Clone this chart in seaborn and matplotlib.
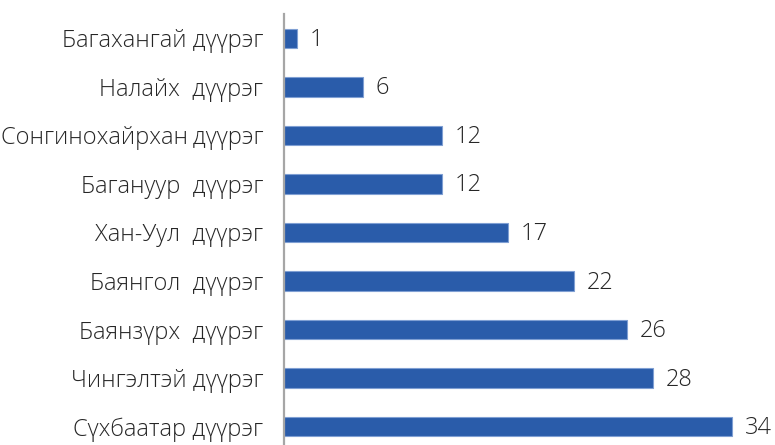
import matplotlib
matplotlib.use('Agg')
import matplotlib.pyplot as plt
import seaborn as sns
import pandas as pd
import numpy as np

districts = ['Багахангай дүүрэг', 'Налайх  дүүрэг', 'Сонгинохайрхан\u2009дүүрэг',
             'Багануур  дүүрэг', 'Хан-Уул  дүүрэг', 'Баянгол  дүүрэг',
             'Баянзүрх  дүүрэг', 'Чингэлтэй дүүрэг', 'Сүхбаатар дүүрэг']
counts = [1, 6, 12, 12, 17, 22, 26, 28, 34]

df = pd.DataFrame({'district': districts, 'count': counts})

sns.set_style('white')
plt.rcParams['font.family'] = ['Open Sans', 'DejaVu Sans']

fig = plt.figure(figsize=(7.75, 4.45), dpi=100)
ax = fig.add_axes([284 / 775, -6 / 445, 488 / 775, 437 / 445])

sns.barplot(data=df, x='count', y='district', orient='h', color='#2A5CAA',
            width=0.4, edgecolor='#7F9FD3', linewidth=0.8, saturation=1, ax=ax)

ax.set_xlim(0, 37)
ax.set_ylim(len(districts) - 0.5, -0.5)
ax.set_xlabel('')
ax.set_ylabel('')
ax.set_xticks([])

for s in ['top', 'right', 'bottom']:
    ax.spines[s].set_visible(False)
ax.spines['left'].set_color('#A6A6A6')
ax.spines['left'].set_linewidth(1.6)

ax.tick_params(axis='y', which='major', length=0, pad=15, labelsize=17, labelcolor='#262626')
for lbl in ax.get_yticklabels():
    lbl.set_fontweight('light')
ax.set_yticks(np.arange(-0.5, len(districts)), minor=True)
ax.tick_params(axis='y', which='minor', length=4.5, width=1.2, color='#A6A6A6')

for i, v in enumerate(counts):
    ax.text(v + 0.95, i + 0.03, str(v), va='center', ha='left', fontsize=17,
            fontweight='light', color='#262626')

fig.savefig('out.png', dpi=100)
